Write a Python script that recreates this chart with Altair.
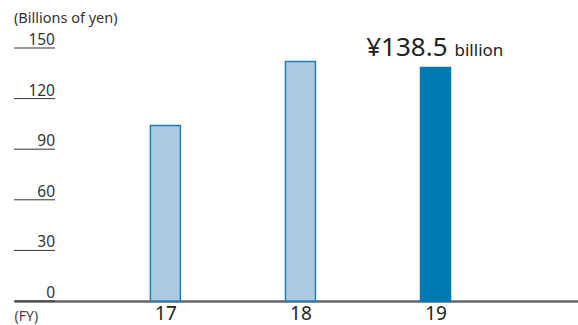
import altair as alt
import pandas as pd

years = [17, 18, 19]
values = [104.0, 142.0, 138.5]
highlight = ["no", "no", "yes"]
tick_values = [0, 30, 60, 90, 120, 150]
tick_labels = ["0", "30", "60", "90", "120", "150"]

FONT = "Noto Sans"

bars_df = pd.DataFrame({"FY": years, "value": values, "hl": highlight})
ticks_df = pd.DataFrame({"v": tick_values, "label": tick_labels})
ann_df = pd.DataFrame({"FY": [19], "value": [138.5], "big": ["¥138.5"], "small": ["billion"]})

xscale = alt.Scale(domain=[15.916, 20.018], nice=False, zero=False)
yscale = alt.Scale(domain=[0, 150], nice=False)

xaxis = alt.Axis(values=years, format="d", grid=False, ticks=False,
                 domainColor="#666666", domainWidth=2.5,
                 labelFontSize=19, labelColor="#222222", labelFont=FONT,
                 labelPadding=3,
                 title="(FY)", titleFont=FONT, titleFontSize=14,
                 titleFontWeight="normal", titleColor="#444444",
                 titleX=0, titleY=15, titleAlign="left",
                 titleBaseline="middle")

base_bars = alt.Chart(bars_df)
bars_light = base_bars.mark_bar(size=30, strokeWidth=1.5, fill="#adc8e1", stroke="#1f7fb8").encode(
    x=alt.X("FY:Q", scale=xscale, axis=xaxis),
    y=alt.Y("value:Q", scale=yscale, axis=None),
).transform_filter(alt.datum.hl == "no")

bars_dark = base_bars.mark_bar(size=30, strokeWidth=1.5, fill="#007ab1", stroke="#007ab1").encode(
    x=alt.X("FY:Q", scale=xscale),
    y=alt.Y("value:Q", scale=yscale),
).transform_filter(alt.datum.hl == "yes")

rules = alt.Chart(ticks_df).mark_rule(color="#333333", strokeWidth=1).encode(
    x=alt.value(0), x2=alt.value(41),
    y=alt.Y("v:Q", scale=yscale),
)

labels = alt.Chart(ticks_df).mark_text(align="right", baseline="alphabetic", dy=-3,
                                       fontSize=15.5, color="#333333", font=FONT).encode(
    x=alt.value(41),
    y=alt.Y("v:Q", scale=yscale),
    text="label:N",
)

unit = alt.Chart(pd.DataFrame({"t": ["(Billions of yen)"]})).mark_text(
    align="left", baseline="middle", fontSize=14.5, color="#333333", font=FONT).encode(
    x=alt.value(0), y=alt.value(-29), text="t:N")

big = alt.Chart(ann_df).mark_text(align="right", baseline="alphabetic", dx=12, dy=-11,
                                  fontSize=26, color="#222222", font=FONT).encode(
    x=alt.X("FY:Q", scale=xscale), y=alt.Y("value:Q", scale=yscale), text="big:N")

small = alt.Chart(ann_df).mark_text(align="left", baseline="alphabetic", dx=19, dy=-11,
                                    fontSize=17, color="#222222", font=FONT).encode(
    x=alt.X("FY:Q", scale=xscale), y=alt.Y("value:Q", scale=yscale), text="small:N")

chart = alt.layer(bars_light, bars_dark, rules, labels, unit, big, small).properties(
    width=564, height=253,
    autosize=alt.AutoSizeParams(type="none"),
    padding={"left": 14, "top": 48, "right": 0, "bottom": 24},
).configure_view(strokeWidth=0)

chart.save("out.html", embed_options={"renderer": "svg", "actions": False})
